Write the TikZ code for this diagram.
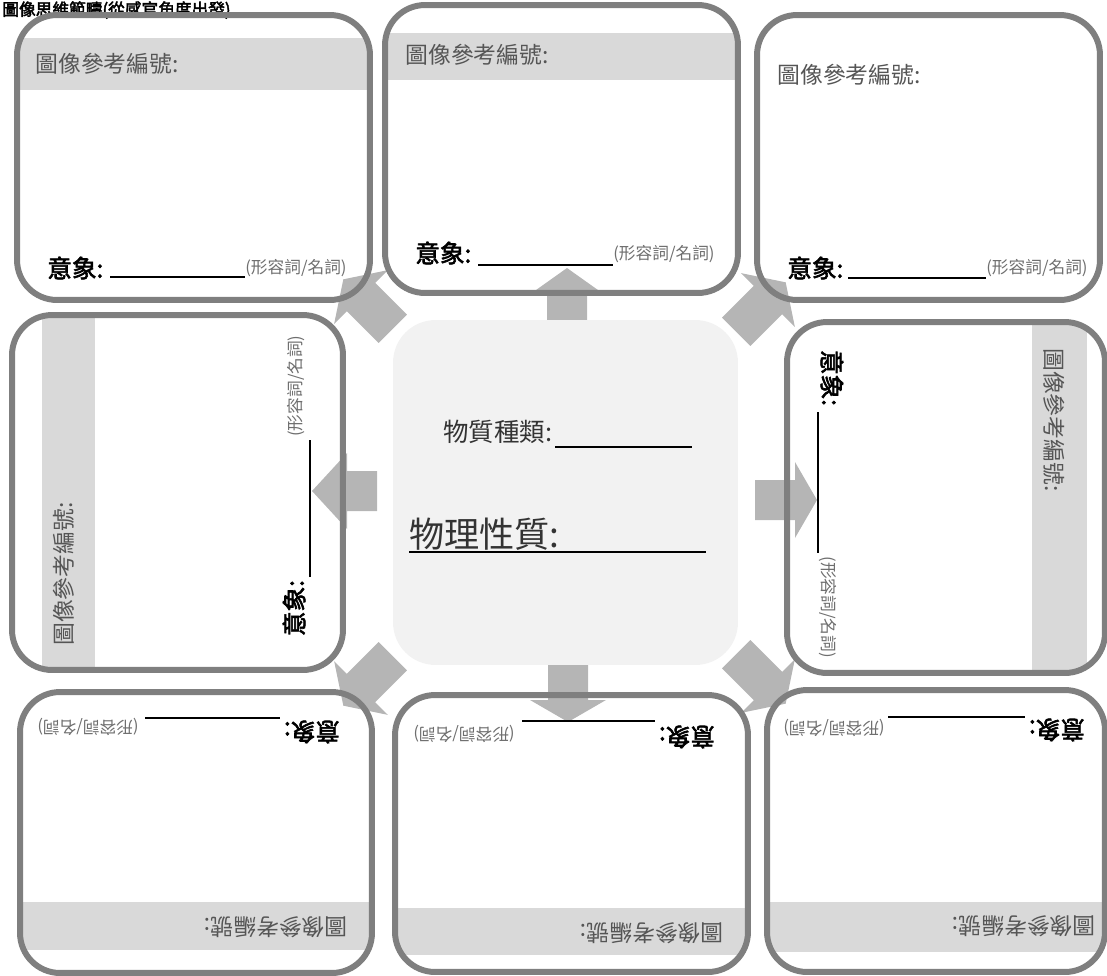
\documentclass[tikz,border=0pt]{standalone}
\usepackage{fontspec}
\setmainfont{Noto Sans CJK TC}[AutoFakeBold=2.5]
\usetikzlibrary{calc}
\definecolor{boxgray}{HTML}{7F7F7F}
\definecolor{bandgray}{HTML}{D9D9D9}
\definecolor{arrowgray}{HTML}{B5B5B5}
\definecolor{centergray}{HTML}{F2F2F2}
\definecolor{labelgray}{HTML}{555555}
\definecolor{hintgray}{HTML}{6E6E6E}
\definecolor{textdark}{HTML}{333333}
\newcommand{\blockarr}[4]{\fill[arrowgray, sharp corners, shift={(#1)}, rotate=#2] (-#4,-20) -- (0,-20) -- (0,-38) -- (#3,0) -- (0,38) -- (0,20) -- (-#4,20) -- cycle;}
\tikzset{
  frame/.style={draw=boxgray, line width=3.4pt, rounded corners=0.8cm, inner sep=0pt},
  topband/.style 2 args={path picture={\fill[bandgray, sharp corners] ($(path picture bounding box.north west)+(-5,#1)$) rectangle ($(path picture bounding box.north east)+(5,#2)$);}},
  botband/.style 2 args={path picture={\fill[bandgray, sharp corners] ($(path picture bounding box.south west)+(-5,-#1)$) rectangle ($(path picture bounding box.south east)+(5,-#2)$);}},
  leftband/.style 2 args={path picture={\fill[bandgray, sharp corners] ($(path picture bounding box.north west)+(#1,-5)$) rectangle ($(path picture bounding box.south west)+(#2,5)$);}},
  rightband/.style 2 args={path picture={\fill[bandgray, sharp corners] ($(path picture bounding box.north east)+(-#1,-5)$) rectangle ($(path picture bounding box.south east)+(-#2,5)$);}},
  reflabel/.style={font=\fontsize{13pt}{15pt}\selectfont, text=labelgray, inner sep=0pt},
  imglabel/.style={font=\bfseries\fontsize{14pt}{16pt}\selectfont, text=black, inner sep=0pt},
  hintlabel/.style={font=\fontsize{9.5pt}{11pt}\selectfont, text=hintgray, inner sep=0pt},
  blank/.style={draw=black, line width=0.8pt},
  centerbox/.style={fill=centergray, rounded corners=0.85cm, inner sep=0pt, minimum width=6.9cm, minimum height=6.9cm}
}
\begin{document}
\begin{tikzpicture}[x=0.02cm, y=-0.02cm]
\useasboundingbox (0,0) rectangle (1107,975);
\clip (0,0) rectangle (1107,975);

% title
\node[anchor=north west, inner sep=0pt, font=\bfseries\fontsize{9.5pt}{11pt}\selectfont] (title) at (2,1) {圖像思維範疇(從感官角度出發)};

% block arrows
\blockarr{567,295}{90}{27}{40}
\blockarr{568,700}{270}{22}{45}
\blockarr{347,491}{180}{35}{30}
\blockarr{795,500}{0}{22}{40}
\blockarr{361,297}{135}{25}{45}
\blockarr{768,300}{45}{25}{45}
\blockarr{361,688}{225}{25}{45}
\blockarr{768,686}{315}{25}{45}

% centre
\node[centerbox] (c) at (565.5,492.5) {};
\node[anchor=west, inner sep=0pt, text=textdark, font=\fontsize{14.5pt}{17pt}\selectfont] (kind) at (443,432) {物質種類:};
\draw[blank] (555,447) -- (692,447);
\node[anchor=west, inner sep=0pt, text=textdark, font=\fontsize{20pt}{24pt}\selectfont] (prop) at (409,534) {物理性質:};
\draw[blank] (409,552) -- (706,552);

% frames
\node[frame, topband={23}{75}, minimum width=7.06cm, minimum height=5.7cm] (tl) at (193.5,157.5) {};
\node[frame, topband={28}{75}, minimum width=7.06cm, minimum height=5.76cm] (tm) at (561.5,149) {};
\node[frame, minimum width=6.86cm, minimum height=5.7cm] (tr) at (928.5,157.5) {};
\node[frame, leftband={30}{83}, minimum width=6.62cm, minimum height=7.1cm] (lf) at (177.5,492.5) {};
\node[frame, rightband={18}{73}, minimum width=6.36cm, minimum height=7.02cm] (rt) at (946,497.5) {};
\node[frame, botband={23}{71}, minimum width=7.04cm, minimum height=5.62cm] (bl) at (196,832.5) {};
\node[frame, botband={17}{64}, minimum width=7.06cm, minimum height=5.54cm] (bm) at (571.5,833.5) {};
\node[frame, botband={20}{70}, minimum width=6.76cm, minimum height=5.64cm] (br) at (936,831) {};

% top-left
\node[reflabel, anchor=west] (tl-ref) at (35,64) {圖像參考編號:};
\node[imglabel, anchor=west] (tl-img) at (47,268) {意象:};
\draw[blank] (110,277) -- (245,277);
\node[hintlabel, anchor=west] (tl-hint) at (245,268) {(形容詞/名詞)};

% top-middle
\node[reflabel, anchor=west] (tm-ref) at (405,55) {圖像參考編號:};
\node[imglabel, anchor=west] (tm-img) at (415,253) {意象:};
\draw[blank] (478,265) -- (613,265);
\node[hintlabel, anchor=west] (tm-hint) at (613,254) {(形容詞/名詞)};

% top-right
\node[reflabel, anchor=west] (tr-ref) at (777,75) {圖像參考編號:};
\node[imglabel, anchor=west] (tr-img) at (787,268) {意象:};
\draw[blank] (848,278) -- (986,278);
\node[hintlabel, anchor=west] (tr-hint) at (986,268) {(形容詞/名詞)};

% left (rotated 90)
\node[reflabel, rotate=90] (lf-ref) at (64,574) {圖像參考編號:};
\node[imglabel, rotate=90] (lf-img) at (294,608) {意象:};
\draw[blank] (310,577) -- (310,440);
\node[hintlabel, rotate=90] (lf-hint) at (296,386) {(形容詞/名詞)};

% right (rotated -90)
\node[reflabel, rotate=-90] (rt-ref) at (1054,420) {圖像參考編號:};
\node[imglabel, rotate=-90] (rt-img) at (832,378) {意象:};
\draw[blank] (818,412) -- (818,553);
\node[hintlabel, rotate=-90] (rt-hint) at (828,607) {(形容詞/名詞)};

% bottom-left (rotated 180)
\node[reflabel, rotate=180] (bl-ref) at (276,927) {圖像參考編號:};
\node[imglabel, rotate=180] (bl-img) at (312,732) {意象:};
\draw[blank] (145,718) -- (280,718);
\node[hintlabel, rotate=180] (bl-hint) at (88,727) {(形容詞/名詞)};

% bottom-middle
\node[reflabel, rotate=180] (bm-ref) at (652,933) {圖像參考編號:};
\node[imglabel, rotate=180] (bm-img) at (687,737) {意象:};
\draw[blank] (522,721) -- (655,721);
\node[hintlabel, rotate=180] (bm-hint) at (464,734) {(形容詞/名詞)};

% bottom-right
\node[reflabel, rotate=180] (br-ref) at (1024,926) {圖像參考編號:};
\node[imglabel, rotate=180] (br-img) at (1057,730) {意象:};
\draw[blank] (888,717) -- (1025,717);
\node[hintlabel, rotate=180] (br-hint) at (834,728) {(形容詞/名詞)};
\end{tikzpicture}
\end{document}
